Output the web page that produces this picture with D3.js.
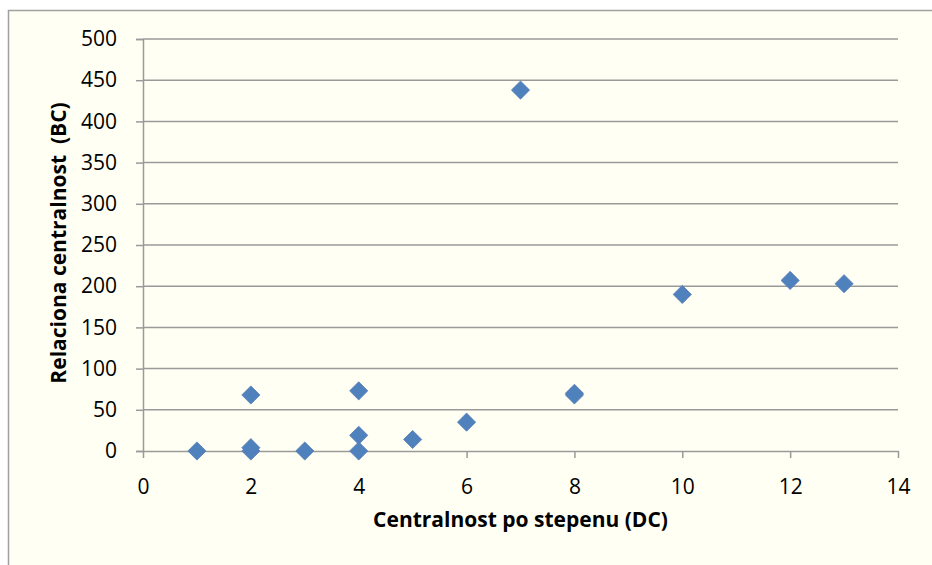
<!DOCTYPE html>
<html>
<head>
<meta charset="utf-8">
<script src="https://cdn.jsdelivr.net/npm/d3@7"></script>
<style>
  body { margin: 0; background: #ffffff; }
  svg { display: block; }
  .tick text { font-family: "Open Sans", Lato, sans-serif; font-size: 21px; fill: #000; }
</style>
</head>
<body>
<svg width="932" height="565"></svg>
<script>
// Degree centrality (DC) vs betweenness centrality (BC)
const dcValues = [1, 2, 2, 2, 3, 4, 4, 4, 5, 6, 7, 8, 8, 10, 12, 13];
const bcValues = [0, 0, 4, 68, 0, 0, 19, 73, 14, 35, 438, 70, 68, 190, 207, 203];
const xTicks = [0, 2, 4, 6, 8, 10, 12, 14];
const yTicks = [0, 50, 100, 150, 200, 250, 300, 350, 400, 450, 500];

const svg = d3.select("svg"),
      margin = {top: 39, right: 32, bottom: 114, left: 143},
      width = 932, height = 565;

// chart area background + border
svg.append("rect")
    .attr("x", 8.5).attr("y", 10.5)
    .attr("width", 940).attr("height", 570)
    .attr("fill", "#fffff3")
    .attr("stroke", "#a0a0a0")
    .attr("stroke-width", 1.5);

const x = d3.scaleLinear()
    .domain([0, 14])
    .range([margin.left, width - margin.right - 2]);

const y = d3.scaleLinear()
    .domain([0, 500])
    .range([height - margin.bottom, margin.top]);

// gridlines
svg.append("g")
    .selectAll("line")
    .data(yTicks.filter(d => d > 0))
    .join("line")
    .attr("x1", x(0)).attr("x2", x(14))
    .attr("y1", d => y(d)).attr("y2", d => y(d))
    .attr("stroke", "#9a9a9a")
    .attr("stroke-width", 1.5);

// y axis
const yAxis = svg.append("g")
    .attr("transform", `translate(${x(0)},0)`)
    .call(d3.axisLeft(y).tickValues(yTicks).tickSize(7).tickPadding(19));
yAxis.selectAll("line, path").attr("stroke", "#9a9a9a").attr("stroke-width", 1.5);

// x axis
const xAxis = svg.append("g")
    .attr("transform", `translate(0,${y(0)})`)
    .call(d3.axisBottom(x).tickValues(xTicks).tickSize(7).tickPadding(21).tickSizeOuter(0));
xAxis.selectAll("line, path").attr("stroke", "#9a9a9a").attr("stroke-width", 1.5);

// points
const diamond = d3.symbol().type(d3.symbolSquare).size(165);
svg.append("g")
    .selectAll("path")
    .data(dcValues.map((d, i) => [d, bcValues[i]]))
    .join("path")
    .attr("d", diamond)
    .attr("transform", d => `translate(${x(d[0])},${y(d[1])}) rotate(45)`)
    .attr("fill", "#4f81bd")
    .attr("stroke", "#5a7fb8")
    .attr("stroke-width", 0.8);

// axis titles
svg.append("text")
    .attr("x", (x(0) + x(14)) / 2)
    .attr("y", 527)
    .attr("text-anchor", "middle")
    .attr("font-family", "'Open Sans', Lato, sans-serif")
    .attr("font-weight", "bold")
    .attr("font-size", 21)
    .text("Centralnost po stepenu (DC)");

svg.append("text")
    .attr("transform", `translate(66,${(y(0) + y(500)) / 2 - 2}) rotate(-90)`)
    .attr("text-anchor", "middle")
    .attr("font-family", "'Open Sans', Lato, sans-serif")
    .attr("font-weight", "bold")
    .attr("font-size", 21)
    .attr("xml:space", "preserve")
    .text("Relaciona centralnost  (BC)");
</script>
</body>
</html>
